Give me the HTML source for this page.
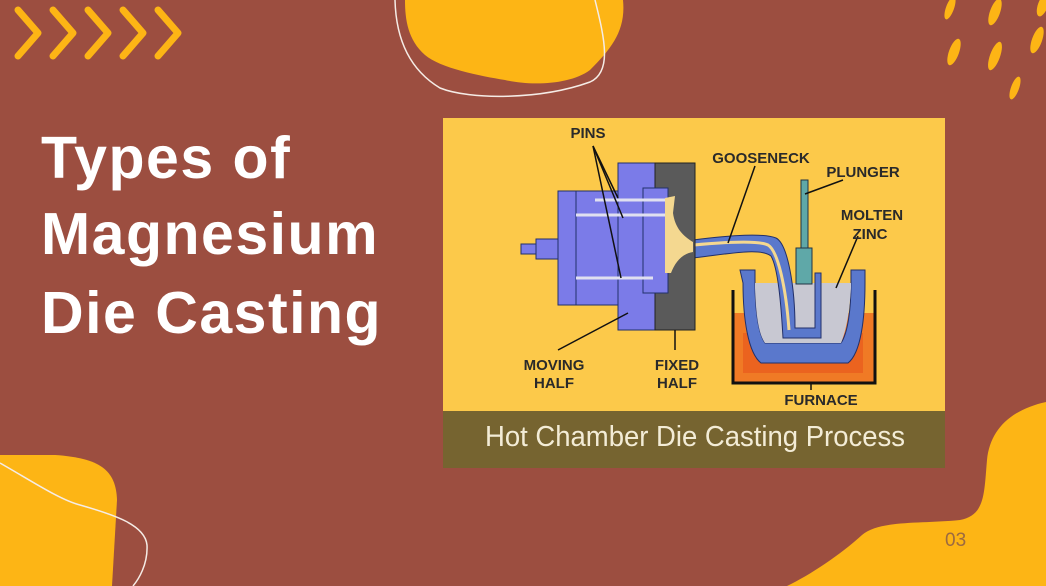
<!DOCTYPE html>
<html><head><meta charset="utf-8"><style>
html,body{margin:0;padding:0;}
body{width:1046px;height:586px;overflow:hidden;background:#9c4e40;position:relative;font-family:"Liberation Sans",sans-serif;}
.t{position:absolute;left:41px;color:#fff;font-weight:bold;font-size:59px;letter-spacing:1.5px;line-height:1;white-space:nowrap;}
</style></head><body>
<svg width="1046" height="586" style="position:absolute;left:0;top:0">
 <g fill="none" stroke="#fdb515" stroke-width="7" stroke-linecap="round" stroke-linejoin="round">
  <polyline points="18,10 38,33 18,56"/>
  <polyline points="53,10 73,33 53,56"/>
  <polyline points="88,10 108,33 88,56"/>
  <polyline points="123,10 143,33 123,56"/>
  <polyline points="158,10 178,33 158,56"/>
 </g>
 <path d="M405,0 L623,0 C626,30 612,48 590,70 C570,85 530,86 505,80 C480,76 440,68 425,55 C408,40 405,20 405,0Z" fill="#fdb515"/>
 <path d="M395,0 C396,40 410,70 440,88 C470,100 540,100 590,82 C612,72 605,40 595,0" fill="none" stroke="#f5ece6" stroke-width="1.5"/>
 <g fill="#fdb515">
  <ellipse cx="950" cy="8" rx="4" ry="12" transform="rotate(20 950 8)"/>
  <ellipse cx="995" cy="12" rx="5" ry="14" transform="rotate(20 995 12)"/>
  <ellipse cx="1043" cy="5" rx="5" ry="12" transform="rotate(20 1043 5)"/>
  <ellipse cx="954" cy="52" rx="5" ry="14" transform="rotate(20 954 52)"/>
  <ellipse cx="995" cy="56" rx="5" ry="15" transform="rotate(20 995 56)"/>
  <ellipse cx="1037" cy="40" rx="5" ry="14" transform="rotate(20 1037 40)"/>
  <ellipse cx="1015" cy="88" rx="4" ry="12" transform="rotate(20 1015 88)"/>
 </g>
 <path d="M0,455 L55,455 C100,458 116,470 117,500 L112,586 L0,586Z" fill="#fdb515"/>
 <path d="M0,463 C30,480 60,500 80,505 C115,515 145,525 147,545 C148,565 138,580 133,586" fill="none" stroke="#f5ece6" stroke-width="1.5"/>
 <path d="M1046,402 C1010,410 990,430 987,460 C984,495 985,515 960,520 C920,524 880,520 862,535 C840,555 810,575 787,586 L1046,586Z" fill="#fdb515"/>
 <text x="945" y="546" font-family="Liberation Sans" font-size="19" fill="#9c6a40">03</text>

 <g transform="translate(443,118)">
  <rect x="0" y="0" width="502" height="350" fill="#fcc94a"/>
  <rect x="0" y="293" width="502" height="57" fill="#766430"/>
  <text x="42" y="328" font-family="Liberation Sans" font-size="29" fill="#f3ecd6" textLength="420" lengthAdjust="spacingAndGlyphs">Hot Chamber Die Casting Process</text>
  <rect x="291" y="195" width="140" height="70" fill="#f07a25"/>
  <rect x="300" y="215" width="120" height="40" fill="#e8541c" opacity="0.6"/>
  <path d="M290,172 L290,265 L432,265 L432,172" fill="none" stroke="#111" stroke-width="3"/>
  <path d="M297,152 L312,152 L312,165 C312,190 315,215 322,225 L398,225 C405,215 408,190 408,165 L408,152 L422,152 L422,165 C422,200 418,235 405,245 L318,245 C305,235 300,200 300,165 Z" fill="#5a78cc" stroke="#22306a" stroke-width="1"/>
  <path d="M312,165 L408,165 L408,170 C406,200 402,215 398,225 L322,225 C315,215 313,195 312,170Z" fill="#c8c8d2"/>
  <path d="M250,122 C290,117 320,115 333,120 C345,126 352,170 352,210 L372,210 L372,155 L378,155 L378,220 L340,220 C338,185 335,150 328,138 C318,130 290,135 250,140Z" fill="#5a78cc" stroke="#22306a" stroke-width="1"/>
  <path d="M240,128 C280,124 315,122 325,127 C335,133 343,170 346,212" fill="none" stroke="#f4d890" stroke-width="3"/>
  <rect x="358" y="62" width="7" height="96" fill="#5fa8a8" stroke="#234" stroke-width="1"/>
  <rect x="353" y="130" width="16" height="36" fill="#5fa8a8" stroke="#234" stroke-width="1"/>
  <rect x="78" y="126" width="30" height="10" fill="#7b7be8" stroke="#22306a"/>
  <rect x="93" y="121" width="22" height="20" fill="#7b7be8" stroke="#22306a"/>
  <rect x="115" y="73" width="60" height="114" fill="#7b7be8" stroke="#22306a"/>
  <line x1="133" y1="73" x2="133" y2="187" stroke="#22306a"/>
  <rect x="175" y="45" width="37" height="167" fill="#7b7be8" stroke="#22306a"/>
  <rect x="212" y="45" width="40" height="167" fill="#5a5a5a" stroke="#222"/>
  <rect x="200" y="70" width="25" height="105" fill="#7b7be8" stroke="#22306a"/>
  <g stroke="#e0e0f0" stroke-width="3">
   <line x1="152" y1="82" x2="225" y2="82"/>
   <line x1="133" y1="97" x2="225" y2="97"/>
   <line x1="133" y1="160" x2="210" y2="160"/>
  </g>
  <path d="M222,80 L232,78 L230,95 C232,110 240,118 250,124 L250,134 C238,136 232,145 228,155 L222,155 Z" fill="#f4d890"/>
  <g stroke="#111" stroke-width="1.5" fill="none">
   <line x1="150" y1="28" x2="175" y2="80"/>
   <line x1="150" y1="28" x2="180" y2="100"/>
   <line x1="150" y1="28" x2="178" y2="160"/>
   <line x1="312" y1="48" x2="285" y2="125"/>
   <line x1="400" y1="62" x2="362" y2="76"/>
   <line x1="415" y1="118" x2="393" y2="170"/>
   <line x1="185" y1="195" x2="115" y2="232"/>
   <line x1="232" y1="212" x2="232" y2="232"/>
   <line x1="368" y1="265" x2="368" y2="272"/>
  </g>
  <g font-family="Liberation Sans" font-weight="bold" font-size="15" fill="#2a2a2a" text-anchor="middle">
   <text x="145" y="20">PINS</text>
   <text x="318" y="45">GOOSENECK</text>
   <text x="420" y="59">PLUNGER</text>
   <text x="429" y="102">MOLTEN</text>
   <text x="427" y="121">ZINC</text>
   <text x="111" y="252">MOVING</text>
   <text x="111" y="270">HALF</text>
   <text x="234" y="252">FIXED</text>
   <text x="234" y="270">HALF</text>
   <text x="378" y="287">FURNACE</text>
  </g>
 </g>
</svg>
<div class="t" style="top:129px">Types of</div>
<div class="t" style="top:205px">Magnesium</div>
<div class="t" style="top:284px">Die Casting</div>
</body></html>
